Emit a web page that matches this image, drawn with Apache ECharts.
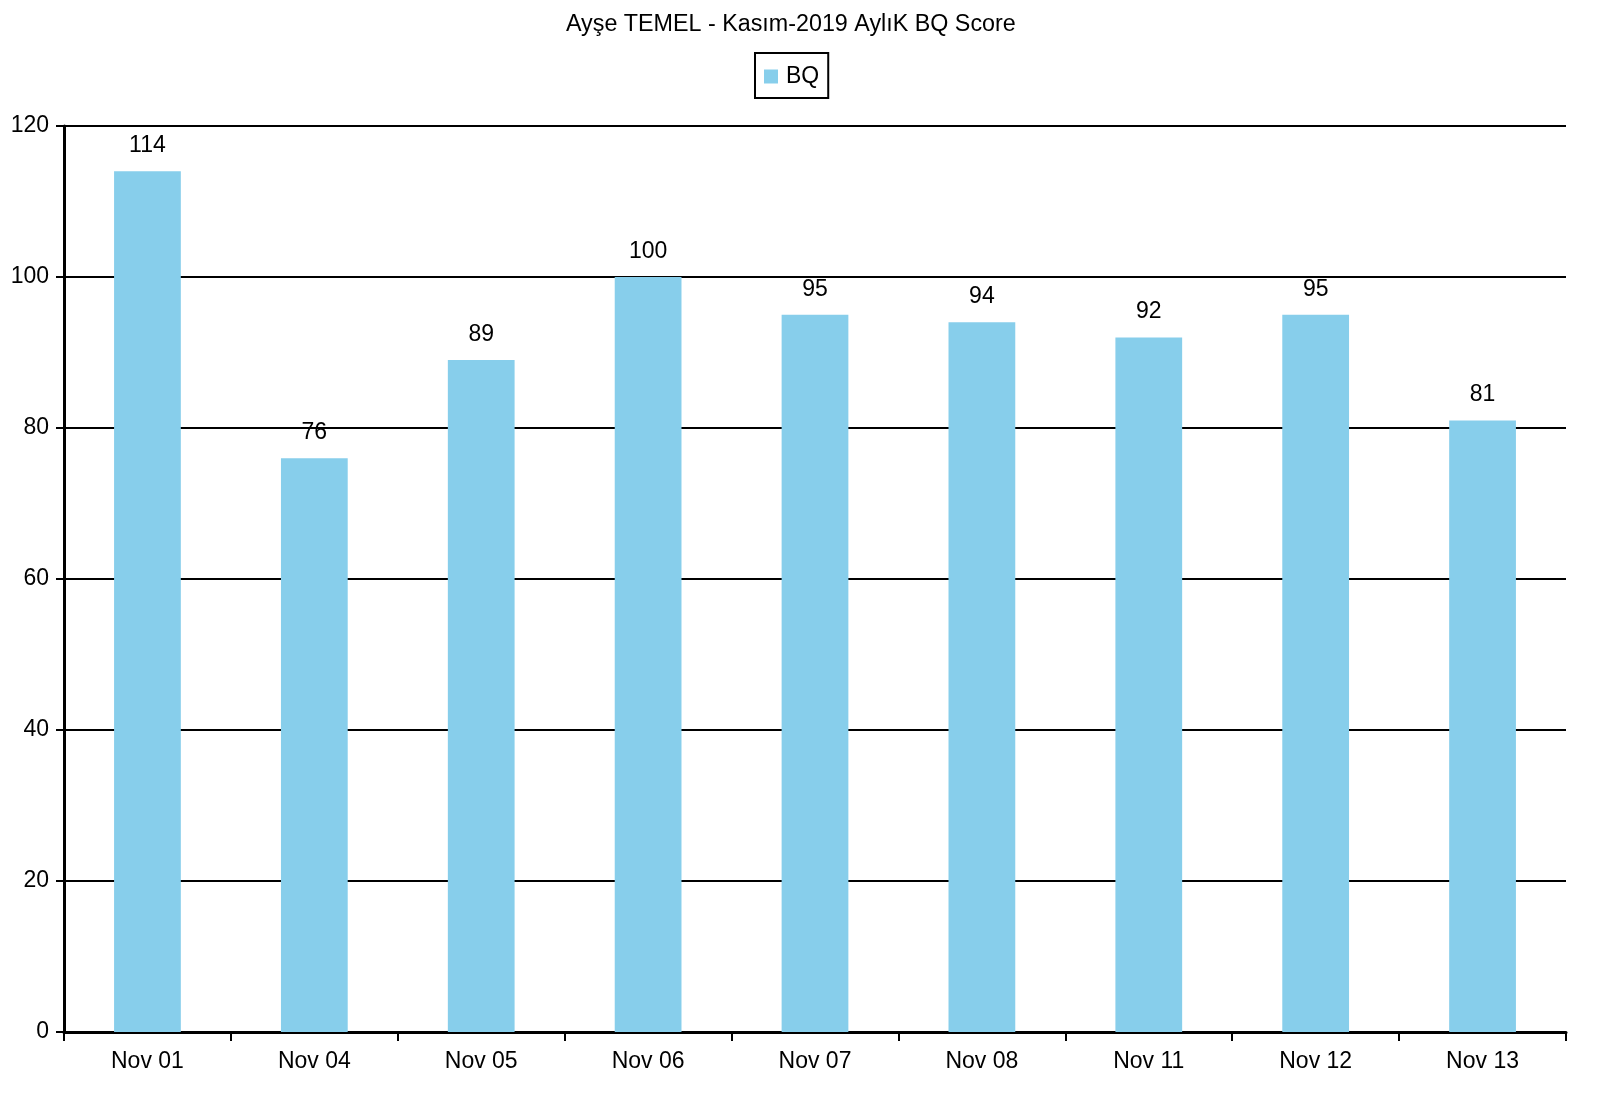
<!DOCTYPE html>
<html>
<head>
<meta charset="utf-8">
<script src="https://cdn.jsdelivr.net/npm/echarts@6/dist/echarts.min.js"></script>
<style>html,body{margin:0;padding:0;background:#fff}#c{width:1600px;height:1102px}</style>
</head>
<body>
<div id="c"></div>
<script>
const categories = ['Nov 01','Nov 04','Nov 05','Nov 06','Nov 07','Nov 08','Nov 11','Nov 12','Nov 13'];
const bqValues = [114, 76, 89, 100, 95, 94, 92, 95, 81];
const yTicks = [0, 20, 40, 60, 80, 100, 120];

const FONT = 'Liberation Sans, Arial, sans-serif';
const chart = echarts.init(document.getElementById('c'), null, {renderer: 'canvas'});
chart.setOption({
  backgroundColor: '#ffffff',
  animation: false,
  title: {
    text: 'Ayşe TEMEL - Kasım-2019 AylıK BQ Score',
    left: 566, top: 13, padding: 0,
    textStyle: {fontFamily: FONT, fontSize: 23.3, fontWeight: 'normal', color: '#000'}
  },
  legend: {
    data: ['BQ'], top: 53, left: 755,
    borderColor: '#000', borderWidth: 2, padding: [12, 9, 10, 9],
    itemWidth: 14, itemHeight: 14, itemGap: 6,
    icon: 'rect',
    textStyle: {fontFamily: FONT, fontSize: 23, color: '#000', padding: [0, 0, 0, 3]}
  },
  grid: {left: 64, right: 34, top: 126, bottom: 70, containLabel: false},
  xAxis: {
    type: 'category', data: categories, boundaryGap: true,
    axisLine: {lineStyle: {color: '#000', width: 3}},
    axisTick: {show: true, length: 9, lineStyle: {color: '#000', width: 2}, alignWithLabel: false},
    axisLabel: {fontFamily: FONT, fontSize: 23, color: '#000', margin: 18}
  },
  yAxis: {
    type: 'value', min: yTicks[0], max: yTicks[yTicks.length - 1], interval: 20,
    axisLine: {show: true, lineStyle: {color: '#000', width: 3}},
    axisTick: {show: true, length: 8, lineStyle: {color: '#000', width: 2}},
    axisLabel: {fontFamily: FONT, fontSize: 23, color: '#000', margin: 15},
    splitLine: {show: true, lineStyle: {color: '#000', width: 2}}
  },
  series: [{
    name: 'BQ', type: 'bar', data: bqValues, barWidth: '40%',
    itemStyle: {color: '#87CEEB'},
    label: {show: true, position: 'top', distance: 14, fontFamily: FONT, fontSize: 23, color: '#000'}
  }]
});
</script>
</body>
</html>
